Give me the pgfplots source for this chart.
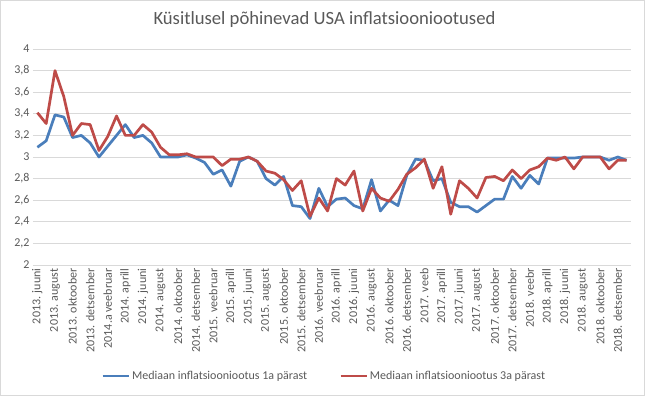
\documentclass[border=0pt]{standalone}
\usepackage{fontspec}
\setmainfont{Carlito}
\usepackage{pgfplots}
\pgfplotsset{compat=1.18}
\usepackage{pgfplotstable}
\definecolor{txtgray}{HTML}{595959}
\definecolor{gridgray}{HTML}{D9D9D9}
\definecolor{serblue}{HTML}{4A7EBB}
\definecolor{serred}{HTML}{BE4B48}
\pgfplotstableread{
i b r
0 3.09 3.41
1 3.15 3.31
2 3.39 3.80
3 3.37 3.56
4 3.18 3.20
5 3.20 3.31
6 3.13 3.30
7 3.00 3.06
8 3.10 3.19
9 3.20 3.38
10 3.30 3.20
11 3.18 3.20
12 3.20 3.30
13 3.13 3.23
14 3.00 3.09
15 3.00 3.02
16 3.00 3.02
17 3.02 3.03
18 2.99 3.00
19 2.95 3.00
20 2.84 3.00
21 2.88 2.92
22 2.73 2.98
23 2.96 2.98
24 3.00 3.00
25 2.96 2.96
26 2.80 2.87
27 2.74 2.85
28 2.82 2.79
29 2.55 2.69
30 2.54 2.78
31 2.43 2.45
32 2.71 2.62
33 2.54 2.50
34 2.61 2.80
35 2.62 2.74
36 2.55 2.87
37 2.52 2.50
38 2.79 2.71
39 2.50 2.62
40 2.60 2.59
41 2.55 2.70
42 2.83 2.84
43 2.98 2.90
44 2.97 2.98
45 2.78 2.71
46 2.80 2.91
47 2.58 2.47
48 2.54 2.78
49 2.54 2.71
50 2.49 2.62
51 2.55 2.81
52 2.61 2.82
53 2.61 2.78
54 2.82 2.88
55 2.71 2.80
56 2.83 2.88
57 2.75 2.91
58 2.99 2.99
59 2.99 2.97
60 2.99 3.00
61 2.99 2.89
62 3.00 3.00
63 3.00 3.00
64 3.00 3.00
65 2.97 2.89
66 3.00 2.97
67 2.97 2.97
}\datatable
\begin{document}
\begin{tikzpicture}
\path[use as bounding box] (0,0) rectangle (645bp,396bp);
\draw[gridgray, line width=0.75bp] (0.5bp,0.5bp) rectangle (644.5bp,395.5bp);
\node[font=\fontsize{18.67bp}{22bp}\selectfont, text=txtgray] at (324.5bp,376bp) {Küsitlusel põhinevad USA inflatsiooniootused};
\begin{axis}[
  at={(33bp,131bp)}, anchor=south west,
  scale only axis, width=598bp, height=216bp,
  xmin=-0.5, xmax=67.5, ymin=2, ymax=4,
  axis line style={draw=none},
  major tick length=0pt,
  ymajorgrids, grid style={gridgray, line width=0.75bp},
  ytick={2,2.2,2.4,2.6,2.8,3,3.2,3.4,3.6,3.8,4},
  /pgf/number format/.cd, fixed, use comma, precision=1, assume math mode=true, /pgfplots/.cd,
  yticklabel style={font=\fontsize{12bp}{14bp}\selectfont, text=txtgray},
  xtick={0,2,...,66},
  xticklabels={2013. juuni,2013. august,2013. oktoober,2013. detsember,2014.a veebruar,2014. aprill,2014. juuni,2014. august,2014. oktoober,2014. detsember,2015. veebruar,2015. aprill,2015. juuni,2015. august,2015. oktoober,2015. detsember,2016. veebruar,2016. aprill,2016. juuni,2016. august,2016. oktoober,2016. detsember,2017. veeb,2017. aprill,2017. juuni,2017. august,2017. oktoober,2017. detsember,2018. veebr,2018. aprill,2018. juuni,2018. august,2018. oktoober,2018. detsember},
  xticklabel style={rotate=90, anchor=east, font=\fontsize{12bp}{14bp}\selectfont, text=txtgray},
  legend style={at={(0.487,-0.514)}, anchor=center, draw=none, fill=none,
    legend columns=2, font=\fontsize{12bp}{14bp}\selectfont, text=txtgray,
    /tikz/every even column/.append style={column sep=30bp}},
  legend cell align=left,
  legend image code/.code={\draw[#1] (0bp,0bp) -- (26bp,0bp);},
]
\addplot[serblue, line width=2.7bp, line join=round] table[x=i, y=b] {\datatable};
\addlegendentry{Mediaan inflatsiooniootus 1a pärast}
\addplot[serred, line width=2.7bp, line join=round] table[x=i, y=r] {\datatable};
\addlegendentry{Mediaan inflatsiooniootus 3a pärast}
\end{axis}
\end{tikzpicture}
\end{document}
